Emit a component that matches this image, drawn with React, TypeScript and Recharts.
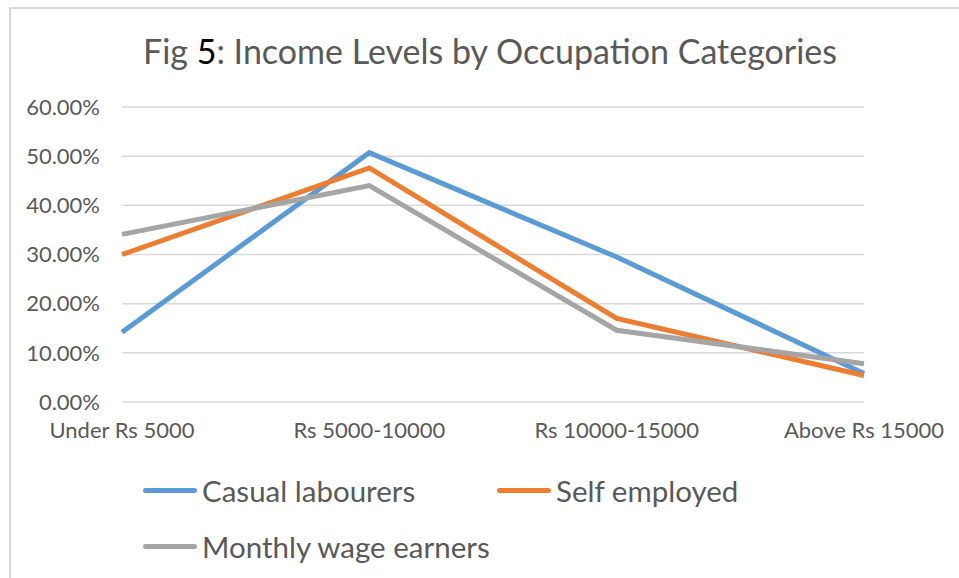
import { LineChart, Line, XAxis, YAxis, CartesianGrid } from 'recharts';

// income bands on the x axis
const incomeBands = ['Under Rs 5000', 'Rs 5000-10000', 'Rs 10000-15000', 'Above Rs 15000'];

// share of each occupation group per band (fractions)
const casualLabourers = [0.142, 0.507, 0.295, 0.058];
const selfEmployed = [0.30, 0.476, 0.17, 0.054];
const monthlyWageEarners = [0.341, 0.44, 0.146, 0.078];

const yTicks = [0, 0.1, 0.2, 0.3, 0.4, 0.5, 0.6];

const SERIES = [
  { key: 'casual', name: 'Casual labourers', color: '#5B9BD5' },
  { key: 'self', name: 'Self employed', color: '#ED7D31' },
  { key: 'monthly', name: 'Monthly wage earners', color: '#A5A5A5' },
];

const FONT = 'Lato, "Open Sans", sans-serif';
const TEXT = '#595959';

const data = incomeBands.map((band, i) => ({
  band,
  casual: casualLabourers[i],
  self: selfEmployed[i],
  monthly: monthlyWageEarners[i],
}));

// Excel-style legend: thick line swatch followed by label, two per row
function ExcelLegend() {
  const row = (items: typeof SERIES) => (
    <div style={{ display: 'flex', height: 56, alignItems: 'center' }}>
      {items.map(s => (
        <div key={s.key} style={{ display: 'flex', alignItems: 'center', width: 354, whiteSpace: 'nowrap' }}>
          <div style={{ width: 54, height: 5, borderRadius: 3, background: s.color, marginRight: 5, flexShrink: 0 }} />
          <span style={{ fontSize: 29.5, color: TEXT, fontFamily: FONT }}>{s.name}</span>
        </div>
      ))}
    </div>
  );
  return (
    <div style={{ position: 'absolute', left: 143, top: 462 }}>
      {row(SERIES.slice(0, 2))}
      {row(SERIES.slice(2))}
    </div>
  );
}

export default function App() {
  return (
    <div style={{ position: 'absolute', left: 0, top: 0, width: 959, height: 578, background: '#fff', overflow: 'hidden' }}>
      {/* chart frame */}
      <div style={{
        position: 'absolute', left: 9, top: 7, width: 960, height: 580,
        borderLeft: '2px solid #d9d9d9', borderTop: '2px solid #d9d9d9',
      }} />
      <div style={{
        position: 'absolute', left: 0, top: 29, width: 980, textAlign: 'center',
        fontFamily: FONT, fontSize: 34, color: TEXT, lineHeight: '44px',
      }}>
        Fig <span style={{ color: '#000' }}>5</span>: Income Levels by Occupation Categories
      </div>
      <LineChart
        width={959}
        height={578}
        data={data}
        margin={{ top: 107, right: 95, bottom: 146, left: 0 }}
        style={{ position: 'absolute', left: 0, top: 0 }}
      >
        <CartesianGrid vertical={false} stroke="#d9d9d9" strokeWidth={1.5} />
        <XAxis
          dataKey="band"
          height={30}
          axisLine={false}
          tickLine={false}
          tickSize={0}
          tickMargin={20}
          interval={0}
          tick={{ fontSize: 22, fill: TEXT, fontFamily: FONT }}
        />
        <YAxis
          width={122}
          domain={[0, 0.6]}
          ticks={yTicks}
          axisLine={false}
          tickLine={false}
          tickSize={0}
          tickMargin={22}
          tickFormatter={(v: number) => `${(v * 100).toFixed(2)}%`}
          tick={{ fontSize: 22, fill: TEXT, fontFamily: FONT }}
        />
        {SERIES.map(s => (
          <Line
            key={s.key}
            type="linear"
            dataKey={s.key}
            name={s.name}
            stroke={s.color}
            strokeWidth={5}
            dot={false}
            activeDot={false}
            isAnimationActive={false}
          />
        ))}
      </LineChart>
      <ExcelLegend />
    </div>
  );
}
